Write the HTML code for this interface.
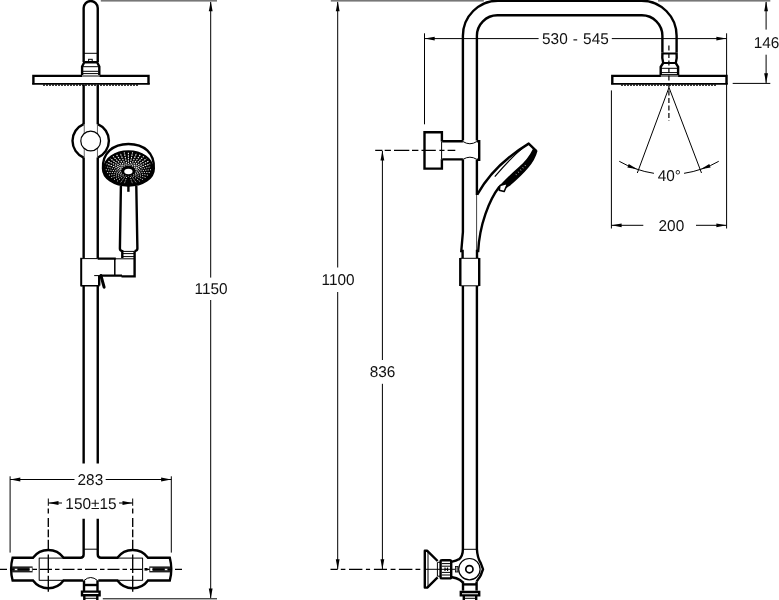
<!DOCTYPE html>
<html><head><meta charset="utf-8"><title>Shower column dimensions</title>
<style>
html,body{margin:0;padding:0;background:#fff}
body{width:779px;height:600px;overflow:hidden}
svg{display:block;will-change:transform}
.k{stroke:#000;stroke-width:2.4;fill:none}
.t{stroke:#000;stroke-width:1;fill:none}
.d{stroke:#000;stroke-width:1.35;fill:none}
.g{stroke:#555;stroke-width:0.9;fill:none}
.f{fill:#000;stroke:none}
text{text-rendering:geometricPrecision;font-family:"Liberation Sans",Arial,Helvetica,sans-serif;font-size:15.6px;fill:#111}
</style></head><body>
<svg width="779" height="600" viewBox="0 0 779 600">
<rect width="779" height="600" fill="#fff"/>
<path class="k" d="M83.65,62 V8.1 A7.05,7.05 0 0 1 97.75,8.1 V62"/>
<path class="t" d="M83.65,53.3 H97.75"/>
<rect class="t" x="88.6" y="59.3" width="3.6" height="3"/>
<path class="k" d="M84.3,62.3 H97.1 L99.3,66.5 V75 M84.3,62.3 L82.1,66.5 V75"/>
<path class="t" d="M83,66.7 H98.4 M83,71.3 H98.4 M83,73.6 H98.4"/>
<path class="k" d="M82,75.9 H33.4 V84.2 M148.5,84.2 V75.9 H99.4"/>
<path d="M32.2,83.9 H149.7" stroke="#000" stroke-width="1.9" fill="none"/>
<path class="t" d="M82,76 H99.4"/>
<path d="M43,85.2 H138" stroke="#000" stroke-width="1.3" stroke-dasharray="2 1" fill="none"/>
<path class="k" d="M83.65,84.8 V124.2 M97.75,84.8 V124.2"/>
<path class="k" d="M83.65,124.02 A18.20,18.20 0 0 0 83.65,157.58 M97.75,124.02 A18.20,18.20 0 0 1 97.75,157.58"/>
<path class="g" d="M84.25,124.02 V157.58 M97.45,124.02 V157.58"/>
<circle cx="90.70" cy="141.00" r="9.9" fill="#fff" stroke="#000" stroke-width="1.2"/>
<path class="k" d="M83.65,157.58 V258 M97.75,157.58 V258.5"/>
<path class="k" d="M103,168.5 C102.2,153 113,144 128.4,144 C144,144 154.6,153 153.8,168.5 C153.8,178 143,185.6 128.4,185.6 C114,185.6 103,178 103,168.5 Z"/>
<ellipse cx="128.40" cy="168.2" rx="24.4" ry="17.2" fill="#000" stroke="#000" stroke-width="1.6"/>
<path d="M135.69,171.28 L151.00,169.68" stroke="#fff" stroke-width="0.90" stroke-dasharray="1.1 1.3" stroke-dashoffset="0.0" fill="none"/>
<path d="M135.44,172.21 L150.23,172.58" stroke="#fff" stroke-width="0.90" stroke-dasharray="1.1 1.3" stroke-dashoffset="1.2" fill="none"/>
<path d="M134.95,173.10 L148.71,175.33" stroke="#fff" stroke-width="0.90" stroke-dasharray="1.1 1.3" stroke-dashoffset="0.0" fill="none"/>
<path d="M134.24,173.91 L146.51,177.84" stroke="#fff" stroke-width="0.90" stroke-dasharray="1.1 1.3" stroke-dashoffset="1.2" fill="none"/>
<path d="M133.33,174.61 L143.69,180.02" stroke="#fff" stroke-width="0.90" stroke-dasharray="1.1 1.3" stroke-dashoffset="0.0" fill="none"/>
<path d="M132.25,175.19 L140.35,181.80" stroke="#fff" stroke-width="0.90" stroke-dasharray="1.1 1.3" stroke-dashoffset="1.2" fill="none"/>
<path d="M131.04,175.61 L136.60,183.12" stroke="#fff" stroke-width="0.90" stroke-dasharray="1.1 1.3" stroke-dashoffset="0.0" fill="none"/>
<path d="M129.75,175.87 L132.57,183.92" stroke="#fff" stroke-width="0.90" stroke-dasharray="1.1 1.3" stroke-dashoffset="1.2" fill="none"/>
<path d="M128.40,175.96 L128.40,184.20" stroke="#fff" stroke-width="0.90" stroke-dasharray="1.1 1.3" stroke-dashoffset="0.0" fill="none"/>
<path d="M127.05,175.87 L124.23,183.92" stroke="#fff" stroke-width="0.90" stroke-dasharray="1.1 1.3" stroke-dashoffset="1.2" fill="none"/>
<path d="M125.76,175.61 L120.20,183.12" stroke="#fff" stroke-width="0.90" stroke-dasharray="1.1 1.3" stroke-dashoffset="0.0" fill="none"/>
<path d="M124.55,175.19 L116.45,181.80" stroke="#fff" stroke-width="0.90" stroke-dasharray="1.1 1.3" stroke-dashoffset="1.2" fill="none"/>
<path d="M123.47,174.61 L113.11,180.02" stroke="#fff" stroke-width="0.90" stroke-dasharray="1.1 1.3" stroke-dashoffset="0.0" fill="none"/>
<path d="M122.56,173.91 L110.29,177.84" stroke="#fff" stroke-width="0.90" stroke-dasharray="1.1 1.3" stroke-dashoffset="1.2" fill="none"/>
<path d="M121.85,173.10 L108.09,175.33" stroke="#fff" stroke-width="0.90" stroke-dasharray="1.1 1.3" stroke-dashoffset="0.0" fill="none"/>
<path d="M121.36,172.21 L106.57,172.58" stroke="#fff" stroke-width="0.90" stroke-dasharray="1.1 1.3" stroke-dashoffset="1.2" fill="none"/>
<path d="M121.11,171.28 L105.80,169.68" stroke="#fff" stroke-width="0.90" stroke-dasharray="1.1 1.3" stroke-dashoffset="0.0" fill="none"/>
<path d="M121.11,170.32 L105.80,166.72" stroke="#fff" stroke-width="0.90" stroke-dasharray="1.1 1.3" stroke-dashoffset="1.2" fill="none"/>
<path d="M121.36,169.39 L106.57,163.82" stroke="#fff" stroke-width="1.05" stroke-dasharray="1.5 1.0" stroke-dashoffset="0.0" fill="none"/>
<path d="M121.85,168.50 L108.09,161.07" stroke="#fff" stroke-width="1.05" stroke-dasharray="1.5 1.0" stroke-dashoffset="1.2" fill="none"/>
<path d="M122.56,167.69 L110.29,158.56" stroke="#fff" stroke-width="1.05" stroke-dasharray="1.5 1.0" stroke-dashoffset="0.0" fill="none"/>
<path d="M123.47,166.99 L113.11,156.38" stroke="#fff" stroke-width="1.05" stroke-dasharray="1.5 1.0" stroke-dashoffset="1.2" fill="none"/>
<path d="M124.55,166.41 L116.45,154.60" stroke="#fff" stroke-width="1.05" stroke-dasharray="1.5 1.0" stroke-dashoffset="0.0" fill="none"/>
<path d="M125.76,165.99 L120.20,153.28" stroke="#fff" stroke-width="1.05" stroke-dasharray="1.5 1.0" stroke-dashoffset="1.2" fill="none"/>
<path d="M127.05,165.73 L124.23,152.48" stroke="#fff" stroke-width="1.05" stroke-dasharray="1.5 1.0" stroke-dashoffset="0.0" fill="none"/>
<path d="M128.40,165.64 L128.40,152.20" stroke="#fff" stroke-width="1.05" stroke-dasharray="1.5 1.0" stroke-dashoffset="1.2" fill="none"/>
<path d="M129.75,165.73 L132.57,152.48" stroke="#fff" stroke-width="1.05" stroke-dasharray="1.5 1.0" stroke-dashoffset="0.0" fill="none"/>
<path d="M131.04,165.99 L136.60,153.28" stroke="#fff" stroke-width="1.05" stroke-dasharray="1.5 1.0" stroke-dashoffset="1.2" fill="none"/>
<path d="M132.25,166.41 L140.35,154.60" stroke="#fff" stroke-width="1.05" stroke-dasharray="1.5 1.0" stroke-dashoffset="0.0" fill="none"/>
<path d="M133.33,166.99 L143.69,156.38" stroke="#fff" stroke-width="1.05" stroke-dasharray="1.5 1.0" stroke-dashoffset="1.2" fill="none"/>
<path d="M134.24,167.69 L146.51,158.56" stroke="#fff" stroke-width="1.05" stroke-dasharray="1.5 1.0" stroke-dashoffset="0.0" fill="none"/>
<path d="M134.95,168.50 L148.71,161.07" stroke="#fff" stroke-width="1.05" stroke-dasharray="1.5 1.0" stroke-dashoffset="1.2" fill="none"/>
<path d="M135.44,169.39 L150.23,163.82" stroke="#fff" stroke-width="1.05" stroke-dasharray="1.5 1.0" stroke-dashoffset="0.0" fill="none"/>
<path d="M135.69,170.32 L151.00,166.72" stroke="#fff" stroke-width="0.90" stroke-dasharray="1.1 1.3" stroke-dashoffset="1.2" fill="none"/>
<ellipse cx="128.40" cy="171.5" rx="4.1" ry="2.7" fill="#fff"/>
<path d="M128.40,176.5 V191.8" stroke="#000" stroke-width="2.4" fill="none"/>
<path class="k" d="M120.9,186 L119.9,248.5 Q119.9,250.6 122.3,251.2 V258 M136.3,186 L137.4,248.5 Q137.4,250.6 134.6,251.2"/>
<path class="t" d="M122.3,251.4 H134.6 M122.3,253.6 H134.6 M122.3,256.6 H134.6"/>
<path class="k" style="stroke-width:2" d="M81.2,257.8 V286.4"/>
<path class="k" d="M97.7,258.6 H115.8 M100.5,275.6 H122 M134.6,251.2 V277.6 M121.5,276.4 H135.8"/>
<path d="M114.8,258.6 V275.6 M81.2,285.8 H99.6" stroke="#000" stroke-width="1.5" fill="none"/>
<path class="t" d="M81.3,258.6 H97.7 M94.2,275.6 H100.5 M114.7,258.8 H134.6"/>
<path d="M100.9,275.5 L104.1,287.2" stroke="#000" stroke-width="3" stroke-linecap="round" fill="none"/>
<path class="k" d="M99.2,276 V285.6"/>
<path class="k" d="M83.65,285.6 V463.5 M97.75,285.6 V463.5"/>
<path class="k" d="M83.65,518.7 V554.6 Q83.65,557.8 80.45,557.8 H63.6 A19,19 0 0 0 33,557.8 H12.6 Q9.6,569.3 12.6,580.5 H33 A19,19 0 0 0 63.6,580.5 H83.2"/>
<path class="k" d="M97.75,518.7 V554.6 Q97.75,557.8 100.95,557.8 H117.4 A19,19 0 0 1 148,557.8 H169.8 Q172.8,569.3 169.8,580.5 H148 A19,19 0 0 1 117.4,580.5 H98.3"/>
<path class="t" d="M83.65,549.2 H97.75 M39.2,557.8 V580.5 M39.2,558.1 H63 M39.2,580.3 H63 M142.6,557.8 V580.5 M118,558.1 H142.6 M118,580.3 H142.6"/>
<rect x="12" y="566.4" width="20.6" height="6" fill="#222"/>
<rect x="14.6" y="568.8" width="3" height="1.4" fill="#fff"/><rect x="29.6" y="567.8" width="2.3" height="3.2" fill="#fff"/>
<rect x="149.3" y="566.4" width="21" height="6" fill="#222"/>
<rect x="150.2" y="567.8" width="2.3" height="3.2" fill="#fff"/><rect x="164.7" y="568.8" width="3" height="1.4" fill="#fff"/>
<rect x="144.5" y="568" width="3" height="2.6" fill="#000"/>
<path class="k" d="M84,580.5 V590.6 M97.5,580.5 V590.6 M82,591.6 H99.6 V595.2 H82 Z M84.3,596 V600 M97.3,596 V600"/>
<path class="t" d="M84,580.5 Q90.7,574.5 97.5,580.5 M84,598.3 H97.5"/>
<path class="k" d="M84,585 H97.5"/>
<path class="t" d="M10.1,476.3 V552.6 M171.3,476.3 V552.6 M10.1,479.5 H74.5 M105.7,479.5 H171.3"/>
<polygon class="f" points="10.30,479.50 20.30,477.60 20.30,481.40"/>
<polygon class="f" points="171.10,479.50 161.10,481.40 161.10,477.60"/>
<text transform="translate(90.40,484.80) scale(0.985,1)" text-anchor="middle">283</text>
<path class="t" d="M48.3,498.5 V505.8 M132.7,498.5 V505.8 M48.3,503 H62 M119,503 H132.7"/>
<path class="d" d="M48.3,508.4 V513.5 M48.3,518.0 V527.0 M48.3,529.5 V537.2 M48.3,539.8 V549.4 M48.3,554.5 V573.0 M48.3,575.7 V591.8"/>
<path class="d" d="M132.7,508.4 V513.5 M132.7,518.0 V527.0 M132.7,529.5 V537.2 M132.7,539.8 V549.4 M132.7,554.5 V573.0 M132.7,575.7 V591.8"/>
<polygon class="f" points="48.50,503.00 58.50,501.10 58.50,504.90"/>
<polygon class="f" points="132.50,503.00 122.50,504.90 122.50,501.10"/>
<text transform="translate(90.90,509.00) scale(0.985,1)" text-anchor="middle">150±15</text>
<path class="d" stroke-dasharray="12 3 4.5 3" d="M-5,569.3 H182"/>
<rect x="100.8" y="0" width="116.2" height="1.6" fill="#777"/>
<path class="t" d="M102.8,598.8 H217 M210.7,2 V277.6 M210.7,300 V598"/>
<polygon class="f" points="210.70,1.20 212.60,11.20 208.80,11.20"/>
<polygon class="f" points="210.70,598.40 208.80,588.40 212.60,588.40"/>
<text transform="translate(211.10,294.40) scale(0.985,1)" text-anchor="middle">1150</text>
<path class="k" d="M462.90,140.5 V35.8 A35.1,35.1 0 0 1 498.00,0.7 H641.50 A35.1,35.1 0 0 1 676.6,35.8 V52.5"/>
<path class="k" d="M476.90,140.5 V35.8 A20.5,20.5 0 0 1 497.40,15.3 H641.90 A20.5,20.5 0 0 1 662.4,35.8 V52.5"/>
<path class="k" d="M662.4,52.5 V53.5 Q661.8,58.5 663.2,63 L660.7,66.8 V75 M676.6,52.5 V53.5 Q677.2,58.5 675.8,63 L678.1,66.8 V75"/>
<path class="k" style="stroke-width:2" d="M662.4,53.6 H676.6 M663,63 H676"/>
<path class="t" d="M661,68.3 H678 M661,72.6 H678 M661,74.6 H678"/>
<path class="k" d="M660.9,75.9 H612.3 V84.2 M726.5,84.2 V75.9 H678.1"/>
<path class="t" d="M660.9,76 H678.1"/>
<path d="M611.1,83.9 H727.7" stroke="#000" stroke-width="1.9" fill="none"/>
<path d="M621,85.2 H717" stroke="#000" stroke-width="1.3" stroke-dasharray="2 1" fill="none"/>
<path class="t" style="stroke-width:1.2" stroke-dasharray="5 2.5" d="M668.9,45.5 V121"/>
<path class="t" d="M668.8,88 L637.3,173 M669.2,88 L701.5,173"/>
<path class="t" d="M619.26,161.31 A100.70,100.70 0 0 0 653.94,173.32 M684.06,173.32 A100.70,100.70 0 0 0 718.74,161.31"/>
<polygon class="f" points="637.38,169.36 627.36,167.56 628.72,164.01"/>
<polygon class="f" points="700.62,169.36 709.28,164.01 710.64,167.56"/>
<text transform="translate(669.40,180.80) scale(0.985,1)" text-anchor="middle">40°</text>
<path class="t" d="M611.4,90.4 V228.5 M726.6,33.3 V228.5 M611.4,225.3 H643.3 M696,225.3 H726.6"/>
<polygon class="f" points="611.60,225.30 621.60,223.40 621.60,227.20"/>
<polygon class="f" points="726.40,225.30 716.40,227.20 716.40,223.40"/>
<text transform="translate(671.40,230.80) scale(0.985,1)" text-anchor="middle">200</text>
<path class="t" d="M424.5,33.3 V124.3 M424.5,38.6 H538.6 M611.8,38.6 H726.6"/>
<polygon class="f" points="424.70,38.60 434.70,36.70 434.70,40.50"/>
<polygon class="f" points="726.40,38.60 716.40,40.50 716.40,36.70"/>
<text transform="translate(575.40,44.00) scale(0.985,1)" text-anchor="middle" style="word-spacing:0.9px">530 - 545</text>
<rect x="658" y="0" width="112.3" height="1.6" fill="#777"/>
<path class="t" d="M732.7,83.4 H770.3 M766.1,2 V29.6 M766.1,54.7 V83"/>
<polygon class="f" points="766.10,1.20 768.00,11.20 764.20,11.20"/>
<polygon class="f" points="766.10,83.20 764.20,73.20 768.00,73.20"/>
<text transform="translate(766.50,48.00) scale(0.985,1)" text-anchor="middle">146</text>
<rect x="330.8" y="0" width="153" height="1.6" fill="#777"/>
<path class="t" d="M337.7,2 V267.5 M337.7,292 V569 M382.4,151 V360 M382.4,383.8 V569"/>
<polygon class="f" points="337.70,1.20 339.60,11.20 335.80,11.20"/>
<polygon class="f" points="337.70,569.20 335.80,559.20 339.60,559.20"/>
<polygon class="f" points="382.40,150.60 384.30,160.60 380.50,160.60"/>
<polygon class="f" points="382.40,569.20 380.50,559.20 384.30,559.20"/>
<text transform="translate(338.10,285.30) scale(0.985,1)" text-anchor="middle">1100</text>
<text transform="translate(382.50,376.90) scale(0.985,1)" text-anchor="middle">836</text>
<path class="d" d="M330.5,569.3 H337.7 M340.8,569.3 H345.4 M349.0,569.3 H362.4 M365.9,569.3 H370.1 M373.9,569.3 H387.0 M390.6,569.3 H395.5 M398.9,569.3 H412.4 M415.5,569.3 H420.3"/>
<path class="t" d="M424,569.3 H452"/>
<path class="k" d="M441.9,141.5 V132.3 H424.5 V168.6 H441.9 V159.3"/><path class="t" d="M441.6,141.5 V159.3"/>
<path class="d" d="M375.2,150.4 H382.4 M384.7,150.4 H390.9 M394.0,150.4 H409.3 M412.0,150.4 H418.4 M421.5,150.4 H435.8 M439.4,150.4 H444.5 M447.6,150.4 H455.3"/>
<path class="k" d="M442.2,141.2 H462.90 M442.2,159.4 H462.90 M476.90,141.2 H479.2 V159.8 H476.90"/>
<path class="t" d="M462.90,141.5 Q469.90,146 476.90,141.5 M462.90,159.4 Q469.90,155 476.90,159.4"/>
<path class="k" d="M462.90,159.4 V232 L461.3,251 H462.6 V258 M476.90,159.8 V195"/>
<path d="M476.6,195 V251" stroke="#444" stroke-width="1" fill="none"/>
<path class="k" stroke-linejoin="round" d="M477.2,194.6 C487,177 505,158 528.7,143.6 L536.2,150.8"/>
<path d="M533.6,149.6 C531,155 526,162 519.7,167.4 C515,171.5 509,177 503.2,183.2 L500.5,186 L506,187.2 L510.1,184.4 C516,179.4 523,172.7 527.4,167.5 C531.5,162.6 535,157 536.5,151 Z" fill="#000" stroke="#000" stroke-width="1.9" stroke-linejoin="round"/>
<path d="M525.5,165.3 L515,175.6" stroke="#fff" stroke-width="1.6" stroke-dasharray="0.6 2.6" stroke-opacity="0.75" fill="none"/>
<path d="M494.8,176.7 C503,167 512.5,156.5 522.3,148.4" stroke="#000" stroke-width="1.2" fill="none"/>
<path class="k" d="M499.5,186.5 C489,200 479.5,225 478.2,251 H477 V258"/>
<path class="k" style="stroke-width:1.6;fill:#fff" stroke-linejoin="round" d="M500,185.4 L507.7,183.2 L504.2,191.5 L499.2,190.2 Z"/>
<path class="k" d="M460.3,258 V286 M479.2,258 V286"/>
<path class="t" d="M460.3,258.3 H479.2 M460.3,285.8 H479.2"/>
<path class="k" d="M462.90,286 V549 C462.90,554 461.5,557.5 458.6,559.6 M476.90,286 V549 C477.20,555 478.6,559.6 480.8,563.2 L483,569.2 L480.8,575.2 C479.6,577.6 477.8,579.5 476.7,581.5"/>
<path class="t" d="M462.90,549.3 H476.90"/>
<circle cx="469.4" cy="569.2" r="10.7" fill="#fff" stroke="#000" stroke-width="1.2"/>
<circle cx="469.4" cy="569.2" r="3.6" fill="#fff" stroke="#000" stroke-width="1.7"/>
<path class="k" stroke-linejoin="round" d="M437.6,561 L427.3,550.8 H424.8 V587.6 H427.3 L437.6,577.4"/>
<path class="t" d="M428,551 V587.5 M437.4,562.3 H440.3 M437.4,576.2 H440.3 M437.4,562.3 V576.2"/>
<path class="k" d="M440.6,561 Q440.6,560.2 442,560.2 H449.8 Q451.2,560.2 451.2,561.5 V577 Q451.2,578.4 449.8,578.4 H442 Q440.6,578.4 440.6,577.4 Z"/>
<path d="M441.8,563.6 H450 M441.8,566.2 H450 M441.8,572.4 H450 M441.8,575 H450" stroke="#000" stroke-width="1" fill="none"/>
<path d="M445,567.6 V571 M447.6,567.6 V571 M445,569.3 H447.6" stroke="#000" stroke-width="1.1" fill="none"/>
<path class="k" d="M451.2,561.8 C455,561 457,560.4 458.8,559.2 M451.2,577 C455,577.6 458,578.6 460,580 L463,582.5"/>
<rect x="455.4" y="566.4" width="2.6" height="5.6" fill="#999" stroke="#000" stroke-width="0.8"/>
<path class="t" d="M451.5,569.3 H455"/>
<path class="k" d="M463,581.5 V590.6 M476.6,581.5 V590.6 M460.8,592 H479.2 V595.4 H460.8 Z M463.8,596 V600 M476.2,596 V600"/>
<path class="k" d="M463,584.4 H476.6"/>
<path class="t" d="M463.8,598.3 H476.2"/>
</svg>
</body></html>
